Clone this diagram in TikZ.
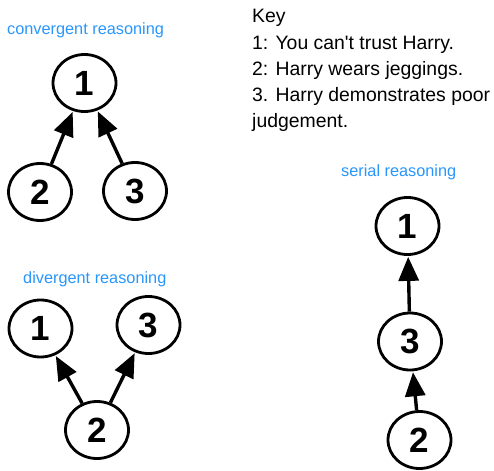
\documentclass[tikz,border=0pt]{standalone}
\usepackage{fontspec}
\setmainfont{Liberation Sans}
\usepackage{tikz}
\usetikzlibrary{shapes.geometric, arrows.meta, positioning}
\usetikzlibrary{calc}
\usepackage{xcolor}
\definecolor{labelblue}{RGB}{40,150,250}

\tikzset{
	claim/.style={draw, ellipse, line width=2.8pt, minimum width=63pt, minimum height=57pt, inner sep=0pt, font=\fontsize{35}{40}\selectfont\bfseries},
	support/.style={line width=3.4pt, -{Triangle[length=24pt,width=20pt]}, shorten >=1pt},
	kind/.style={anchor=base west, inner sep=0pt, text=labelblue, font=\fontsize{16.3}{19}\selectfont},
	keyline/.style={anchor=base west, inner sep=0pt, font=\fontsize{19.4}{23}\selectfont}
}

\begin{document}
\begin{tikzpicture}[x=1pt,y=-1pt]
				\useasboundingbox (0,0) rectangle (494,470);
				% convergent
				\node[kind] (convlabel) at (7,35) {convergent reasoning};
				\node[claim] (conva) at (84.5,83) {1};
				\node[claim] (convb) at (40,192) {2};
				\node[claim] (convc) at (135,191) {3};
				\draw[support] (convb) -- (conva);
				\draw[support] (convc) -- (conva);
				% divergent
				\node[kind] (divlabel) at (23,283) {divergent reasoning};
				\node[claim] (diva) at (40.5,328.5) {1};
				\node[claim] (divc) at (148.5,325) {3};
				\node[claim] (divb) at (97,430) {2};
				\draw[support] (divb) -- (diva);
				\draw[support] (divb) -- (divc);
				% serial
				\node[kind] (serlabel) at (341,177) {serial reasoning};
				\node[claim] (sera) at (407.5,226) {1};
				\node[claim] (serc) at (410,341.5) {3};
				\node[claim] (serb) at (419.5,440) {2};
				\draw[support] (serc) -- (sera);
				\draw[support] (serb) -- (serc);
				% key
				\node[keyline] (key) at (252,23) {Key};
				\node[keyline] (keya) at (252,49.5) {1: You can\textquotesingle t trust Harry.};
				\node[keyline] (keyb) at (252,76) {2: Harry wears jeggings.};
				\node[keyline] (keyc) at (252,102) {3. Harry demonstrates poor};
				\node[keyline] (keyd) at (252,128) {judgement.};
			\end{tikzpicture}
\end{document}
